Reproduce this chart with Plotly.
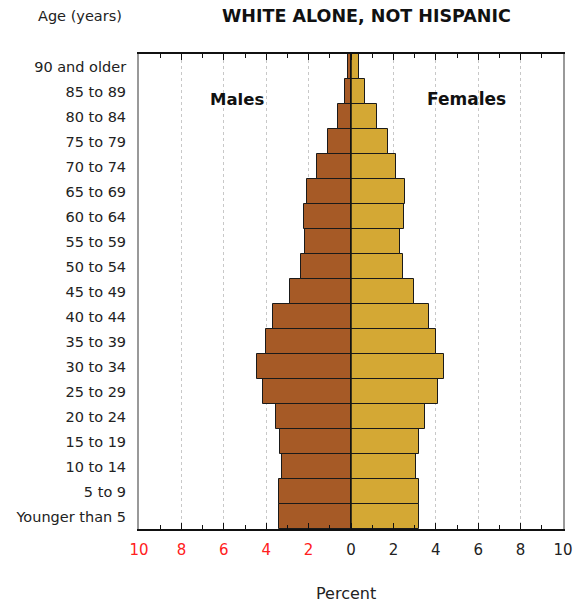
import plotly.graph_objects as go

age_groups = ["Younger than 5", "5 to 9", "10 to 14", "15 to 19", "20 to 24", "25 to 29",
              "30 to 34", "35 to 39", "40 to 44", "45 to 49", "50 to 54", "55 to 59",
              "60 to 64", "65 to 69", "70 to 74", "75 to 79", "80 to 84", "85 to 89",
              "90 and older"]
males = [3.4, 3.42, 3.24, 3.34, 3.54, 4.13, 4.42, 4.03, 3.67, 2.9, 2.36, 2.16,
         2.22, 2.08, 1.59, 1.07, 0.6, 0.27, 0.13]
females = [3.23, 3.23, 3.06, 3.2, 3.48, 4.09, 4.38, 4.03, 3.67, 2.99, 2.47, 2.33,
           2.5, 2.54, 2.13, 1.73, 1.21, 0.68, 0.36]
tick_vals = [-10, -8, -6, -4, -2, 0, 2, 4, 6, 8, 10]
tick_text = [f"<span style='color:#ff2020'>{abs(v)}</span>" if v < 0 else str(v) for v in tick_vals]

FONT = "Verdana, DejaVu Sans, sans-serif"

fig = go.Figure()
fig.add_trace(go.Bar(y=age_groups, x=[-v for v in males], orientation="h",
                     marker=dict(color="#A65A26", line=dict(color="#1a1a1a", width=1)),
                     name="Males", showlegend=False))
fig.add_trace(go.Bar(y=age_groups, x=females, orientation="h",
                     marker=dict(color="#D4A834", line=dict(color="#1a1a1a", width=1)),
                     name="Females", showlegend=False))

fig.update_layout(
    width=574, height=609,
    margin=dict(l=139, r=11, t=54, b=80),
    barmode="relative", bargap=0,
    plot_bgcolor="white", paper_bgcolor="white",
    font=dict(family=FONT, size=14, color="#222"),
    xaxis=dict(range=[-10, 10], tickvals=tick_vals, ticktext=tick_text,
               tickfont=dict(size=15, color="#222"), automargin=False,
               ticks="inside", ticklen=6, tickcolor="#111",
               minor=dict(dtick=1, tick0=1, ticks="inside", ticklen=4, tickcolor="#111", showgrid=False),
               showgrid=True, gridcolor="#c8c8c8", griddash="dot", gridwidth=1,
               zeroline=False,
               showline=True, linecolor="#111", linewidth=1.5, mirror="ticks",
               ticklabelstandoff=6),
    yaxis=dict(categoryorder="array", categoryarray=age_groups, range=[-0.5, 18.5],
               tickfont=dict(size=14.5, color="#222"), ticks="", ticklabelstandoff=8,
               automargin=False,
               showgrid=False, zeroline=False,
               showline=True, linecolor="#999999", linewidth=2, mirror=True),
    shapes=[dict(type="line", xref="x", yref="y", x0=0, x1=0, y0=-0.5, y1=18.5,
                 line=dict(color="#111", width=1.5), layer="above")],
    annotations=[
        dict(text="<b>WHITE ALONE, NOT HISPANIC</b>", xref="paper", yref="paper",
             x=0.537, y=1, yshift=38, xanchor="center", yanchor="middle", showarrow=False,
             font=dict(size=17.5, color="#111")),
        dict(text="Age (years)", xref="paper", x=-0.139, yref="paper", y=1, yshift=38,
             xanchor="center", yanchor="middle", showarrow=False, font=dict(size=14.5, color="#222")),
        dict(text="<b>Males</b>", xref="x", x=-5.4, yref="y", y="80 to 84", yshift=17,
             showarrow=False, xanchor="center", yanchor="middle", font=dict(size=16.5, color="#111")),
        dict(text="<b>Females</b>", xref="x", x=5.47, yref="y", y="80 to 84", yshift=18,
             showarrow=False, xanchor="center", yanchor="middle", font=dict(size=17, color="#111")),
        dict(text="Percent", xref="paper", x=0.488, yref="paper", y=0, yshift=-64,
             showarrow=False, xanchor="center", yanchor="middle", font=dict(size=16, color="#222")),
    ],
)

fig.write_html("out.html", config={"displayModeBar": False},
               post_script="document.body.style.margin='0';document.body.style.padding='0';")
